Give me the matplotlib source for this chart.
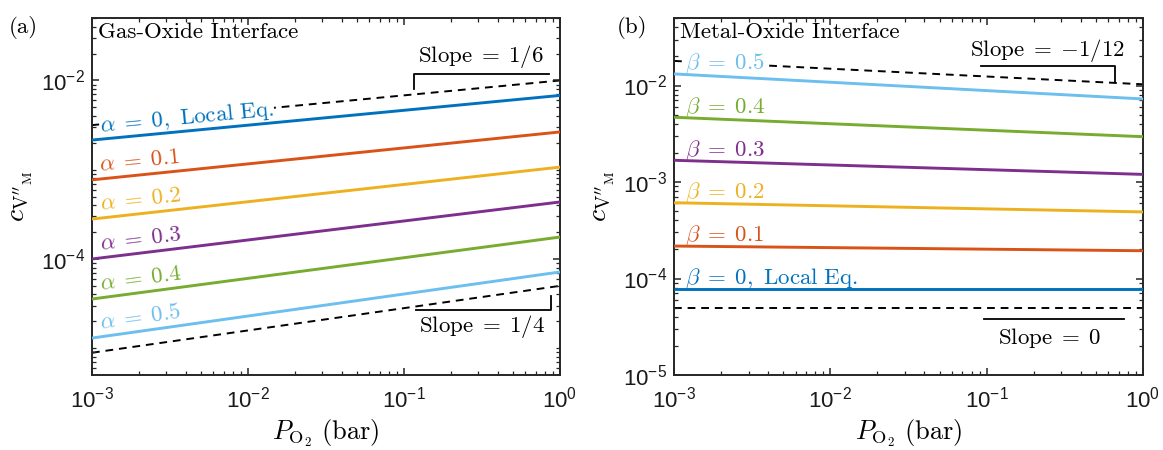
import numpy as np
import matplotlib
matplotlib.use("Agg")
import matplotlib.pyplot as plt
from matplotlib.ticker import LogLocator, NullFormatter, FixedLocator, LogFormatterSciNotation

plt.rcParams["mathtext.fontset"] = "cm"
plt.rcParams["font.family"] = ["Liberation Sans", "DejaVu Sans"]

# ---------------- data ----------------
P_ends = [1e-3, 1.0]  # bar

# (a) Gas-oxide interface: concentration at P = 1e-3 and P = 1 bar
alpha_values = ["0", "0.1", "0.2", "0.3", "0.4", "0.5"]
c_alpha_0 = [2.15e-3, 6.8e-3]
c_alpha_1 = [7.7e-4, 2.65e-3]
c_alpha_2 = [2.8e-4, 1.07e-3]
c_alpha_3 = [1.0e-4, 4.35e-4]
c_alpha_4 = [3.56e-5, 1.76e-4]
c_alpha_5 = [1.30e-5, 7.15e-5]
gas_guide_upper = [3.16e-3, 1.0e-2]
gas_guide_lower = [8.9e-6, 5.0e-5]

# (b) Metal-oxide interface
beta_values = ["0", "0.1", "0.2", "0.3", "0.4", "0.5"]
c_beta_0 = [7.8e-5, 7.8e-5]
c_beta_1 = [2.17e-4, 1.94e-4]
c_beta_2 = [6.1e-4, 4.9e-4]
c_beta_3 = [1.68e-3, 1.20e-3]
c_beta_4 = [4.69e-3, 2.95e-3]
c_beta_5 = [1.32e-2, 7.26e-3]
metal_guide_upper = [1.8e-2, 1.03e-2]
metal_guide_lower = [5.0e-5, 5.0e-5]

# slope bracket vertices
gas_upper_bracket_P = [0.116, 0.116, 0.85]
gas_upper_bracket_c = [8.0e-3, 1.18e-2, 1.18e-2]
gas_lower_bracket_P = [0.119, 0.875, 0.875]
gas_lower_bracket_c = [2.68e-5, 2.68e-5, 3.85e-5]
metal_upper_bracket_P = [0.092, 0.662, 0.662]
metal_upper_bracket_c = [1.61e-2, 1.61e-2, 1.10e-2]
metal_lower_bracket_P = [0.0966, 0.754]
metal_lower_bracket_c = [3.79e-5, 3.79e-5]

slope_labels_gas = [r"$\mathrm{Slope}\;=\;1/6$", r"$\mathrm{Slope}\;=\;1/4$"]
slope_labels_metal = [r"$\mathrm{Slope}\;=\;{-1/12}$", r"$\mathrm{Slope}\;=\;0$"]

colors = ["#0072BD", "#D95319", "#EDB120", "#7E2F8E", "#77AC30", "#6CBFEE"]

alpha_series = [c_alpha_0, c_alpha_1, c_alpha_2, c_alpha_3, c_alpha_4, c_alpha_5]
beta_series = [c_beta_0, c_beta_1, c_beta_2, c_beta_3, c_beta_4, c_beta_5]

# ---------------- figure ----------------
fig = plt.figure(figsize=(11.63, 4.50), dpi=100)
axA = fig.add_axes([92 / 1163, 75 / 450, 468 / 1163, 357 / 450])
axB = fig.add_axes([674 / 1163, 75 / 450, 469 / 1163, 357 / 450])

AX_COL = "#262626"
TICK_FS = 16
LBL_FS = 19
TXT_FS = 16.5


def style(ax, ylim, yticks):
    ax.set_xscale("log")
    ax.set_yscale("log")
    ax.set_xlim(P_ends[0], P_ends[1])
    ax.set_ylim(*ylim)
    ax.xaxis.set_major_locator(FixedLocator([1e-3, 1e-2, 1e-1, 1e0]))
    ax.yaxis.set_major_locator(FixedLocator(yticks))
    ax.xaxis.set_major_formatter(LogFormatterSciNotation())
    ax.yaxis.set_major_formatter(LogFormatterSciNotation())
    ax.xaxis.set_minor_locator(LogLocator(base=10, subs=np.arange(1, 10), numticks=30))
    ax.yaxis.set_minor_locator(LogLocator(base=10, subs=np.arange(1, 10), numticks=30))
    ax.xaxis.set_minor_formatter(NullFormatter())
    ax.yaxis.set_minor_formatter(NullFormatter())
    ax.tick_params(which="both", direction="in", top=True, right=True,
                   color=AX_COL, labelcolor="#1a1a1a", labelsize=TICK_FS)
    ax.tick_params(which="major", length=5, width=1.1)
    ax.tick_params(which="minor", length=3, width=0.9)
    ax.tick_params(axis="x", pad=8)
    ax.tick_params(axis="y", pad=5)
    for s in ax.spines.values():
        s.set_color(AX_COL)
        s.set_linewidth(1.4)
    ax.set_xlabel(r"$P_{\mathrm{O}_2}\ (\mathrm{bar})$", fontsize=LBL_FS)
    ax.xaxis.set_label_coords(0.5, -0.12)
    ax.set_ylabel(r"$c_{\mathrm{V}''_{\mathrm{M}}}$", fontsize=LBL_FS + 1)
    ax.yaxis.set_label_coords(-0.122, 0.5)


style(axA, (10 ** -5.3, 10 ** -1.3), [1e-4, 1e-2])
style(axB, (1e-5, 10 ** -1.3), [1e-5, 1e-4, 1e-3, 1e-2])


def on_line(P, c_pair):
    lp = np.log10(P_ends)
    lc = np.log10(c_pair)
    return 10 ** np.interp(np.log10(P), lp, lc)


def draw_panel(ax, series, names, sym, guides, brackets, slope_texts, slope_pos,
               label_P, label_off, rotate, title):
    for g in guides:
        ax.plot(P_ends, g, color="black", lw=1.4, dashes=(4, 3), zorder=1)
    for bp, bc in brackets:
        ax.plot(bp, bc, color="black", lw=1.3, zorder=1)
    for i, (c, name) in enumerate(zip(series, names)):
        ax.plot(P_ends, c, color=colors[i], lw=2.1, zorder=3,
                solid_capstyle="butt")
        p0 = ax.transData.transform((P_ends[0], c[0]))
        p1 = ax.transData.transform((P_ends[1], c[1]))
        ang = np.degrees(np.arctan2(p1[1] - p0[1], p1[0] - p0[0])) if rotate else 0.0
        if name != "0":
            txt = rf"${sym}\;=\;{name}$"
        else:
            txt = rf"${sym}\;=\;0,\ \mathrm{{Local\ Eq.}}$"
        ax.annotate(txt, xy=(label_P, on_line(label_P, c)), xytext=(0, label_off),
                    textcoords="offset points", ha="left", va="baseline",
                    rotation=ang, rotation_mode="anchor", color=colors[i],
                    fontsize=TXT_FS, zorder=2,
                    bbox=dict(boxstyle="square,pad=0.02", fc="white", ec="none"))
    for t, (x, y) in zip(slope_texts, slope_pos):
        ax.text(x, y, t, transform=ax.transAxes, ha="center", va="center",
                fontsize=TXT_FS, color="black")
    ax.text(0.013, 0.945, title, transform=ax.transAxes, ha="left", va="baseline",
            fontsize=TXT_FS, family="cmr10", color="black")


draw_panel(axA, alpha_series, alpha_values, r"\alpha",
           [gas_guide_upper, gas_guide_lower],
           [(gas_upper_bracket_P, gas_upper_bracket_c),
            (gas_lower_bracket_P, gas_lower_bracket_c)],
           slope_labels_gas, [(0.831, 0.893), (0.833, 0.135)],
           1.13e-3, 5.5, True, "Gas-Oxide Interface")

draw_panel(axB, beta_series, beta_values, r"\beta",
           [metal_guide_upper, metal_guide_lower],
           [(metal_upper_bracket_P, metal_upper_bracket_c),
            (metal_lower_bracket_P, metal_lower_bracket_c)],
           slope_labels_metal, [(0.797, 0.908), (0.80, 0.104)],
           1.17e-3, 3.5, False, "Metal-Oxide Interface")

fig.text(9 / 1163, 1 - 27.5 / 450, "(a)", ha="left", va="center", fontsize=TXT_FS,
         family="cmr10")
fig.text(617 / 1163, 1 - 27.5 / 450, "(b)", ha="left", va="center", fontsize=TXT_FS,
         family="cmr10")

fig.savefig("out.png", dpi=100)
